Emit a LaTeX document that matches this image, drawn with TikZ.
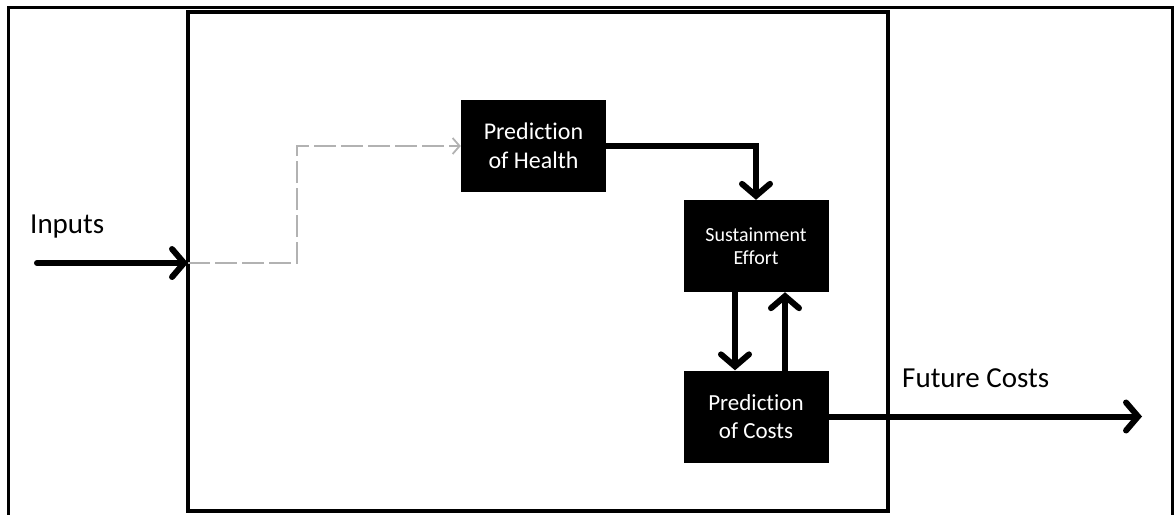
\documentclass[tikz,border=0pt]{standalone}
\usepackage{fontspec}
\setmainfont[Ligatures={NoCommon}]{Carlito}
\usetikzlibrary{arrows.meta}
\tikzset{
  blockbox/.style={draw=none, fill=black, text=white, align=center,
    minimum width=145pt, minimum height=92pt, inner sep=0pt},
  flow/.style={line width=6pt, line cap=round,
    -{Straight Barb[length=12pt,width=28pt,line cap=round]}},
  dashflow/.style={draw=black!30, line width=1.8pt, dash pattern=on 22pt off 5pt,
    -{Straight Barb[length=7pt,width=16pt]}},
  labeltext/.style={font=\fontsize{29pt}{33pt}\selectfont, inner sep=0pt}
}
\begin{document}
\begin{tikzpicture}[x=1pt,y=-1pt]
  \useasboundingbox (0,0) rectangle (1174,514);
  % outer frame and model boundary
  \draw[line width=3pt] (8,7) rectangle (1172,518);
  \draw[line width=3.5pt] (188,12) rectangle (888,511);

  % blocks
  \node[blockbox, font=\fontsize{24pt}{29pt}\selectfont] (health) at (533.5,146) {Prediction\\of Health};
  \node[blockbox, font=\fontsize{20pt}{23pt}\selectfont] (sust) at (756,246) {Sustainment\\Effort};
  \node[blockbox, font=\fontsize{23pt}{28pt}\selectfont] (costs) at (756,416.5) {Prediction\\of Costs};

  % labels
  \node[labeltext, anchor=base west] (inlabel) at (30,233) {Inputs};
  \node[labeltext, anchor=base west] (outlabel) at (902,387) {Future Costs};

  % free ends of the external connectors
  \coordinate (inStart) at (37,263);
  \coordinate (inEnd) at (188,263);
  \coordinate (bend) at (297,263);
  \coordinate (outEnd) at (1142,416.5);

  % connectors
  \draw[flow] (inStart) -- (inEnd);
  \draw[dashflow] (inEnd) -- (bend) |- (health.west);
  \draw[flow] (health.east) -| (sust.north);
  \draw[flow] ([xshift=-21pt]sust.south) -- ([xshift=-21pt]costs.north);
  \draw[flow] ([xshift=29pt]costs.north) -- ([xshift=29pt]sust.south);
  \draw[flow] (costs.east) -- (outEnd);
\end{tikzpicture}
\end{document}
